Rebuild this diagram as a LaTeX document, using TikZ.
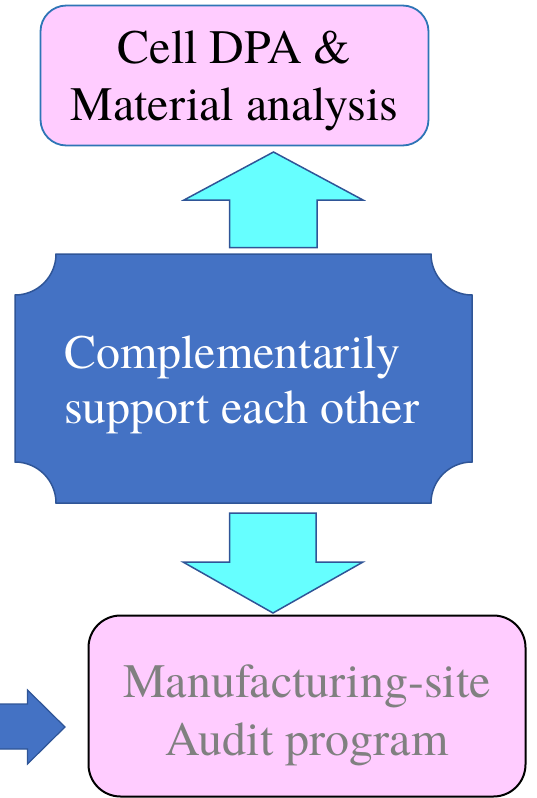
\documentclass[tikz,border=0pt]{standalone}
\usepackage{fontspec}
\setmainfont{texgyretermes}[Extension=.otf, UprightFont=*-regular, BoldFont=*-bold, ItalicFont=*-italic, BoldItalicFont=*-bolditalic]
\definecolor{pinkfill}{HTML}{FFCCFF}
\definecolor{topborder}{HTML}{2E75B6}
\definecolor{cyanfill}{HTML}{66FFFF}
\definecolor{arrowline}{HTML}{2F5597}
\definecolor{plaquefill}{HTML}{4472C4}
\definecolor{graytext}{HTML}{808080}
\tikzset{
  bigtext/.style={font=\fontsize{48}{57}\selectfont, inner sep=0pt},
  blockarrow/.style={fill=cyanfill, draw=arrowline, line width=1.5pt, line join=miter},
  bluearrow/.style={fill=plaquefill, draw=arrowline, line width=1.2pt, line join=miter},
}
\begin{document}
\begin{tikzpicture}[x=1pt,y=-1pt]
\useasboundingbox (0,0) rectangle (536,798);
% top box
\node[draw=topborder, line width=1.8pt, fill=pinkfill, rounded corners=26pt,
      minimum width=388pt, minimum height=140pt, inner sep=0pt] (dpa) at (234.5,75.5) {};
\node[bigtext, anchor=base] (dpa1) at (234.5,63) {Cell DPA \&};
\node[bigtext, anchor=base] (dpa2) at (234.5,120) {Material analysis};
% plaque
\path[fill=plaquefill, draw=arrowline, line width=1.5pt]
  (56,254) -- (431,254) .. controls (431,276.6) and (449.4,295) .. (472,295)
  -- (472,462) .. controls (449.4,462) and (431,480.4) .. (431,503)
  -- (56,503) .. controls (56,480.4) and (37.6,462) .. (15,462)
  -- (15,295) .. controls (37.6,295) and (56,276.6) .. (56,254) -- cycle;
\node[bigtext, anchor=base west, text=white] (sup1) at (64,368) {Complementarily};
\node[bigtext, anchor=base west, text=white] (sup2) at (64,423) {support each other};
% up arrow
\path[blockarrow] (273.5,152) -- (363,200) -- (317,200) -- (317,247.5)
  -- (229.5,247.5) -- (229.5,200) -- (184,200) -- cycle;
% down arrow
\path[blockarrow] (229.5,513) -- (316,513) -- (316,562) -- (363,562)
  -- (273,613) -- (183,562) -- (229.5,562) -- cycle;
% bottom box
\node[draw=black, line width=2pt, fill=pinkfill, rounded corners=32pt,
      minimum width=437pt, minimum height=181pt, inner sep=0pt] (audit) at (307,706) {};
\node[bigtext, anchor=base, text=graytext] (aud1) at (307,697) {Manufacturing-site};
\node[bigtext, anchor=base, text=graytext] (aud2) at (307,755) {Audit program};
% left arrow
\path[bluearrow] (-5,704) -- (27.5,704) -- (27.5,690) -- (65,727)
  -- (27.5,764) -- (27.5,749) -- (-5,749) -- cycle;
\end{tikzpicture}
\end{document}
